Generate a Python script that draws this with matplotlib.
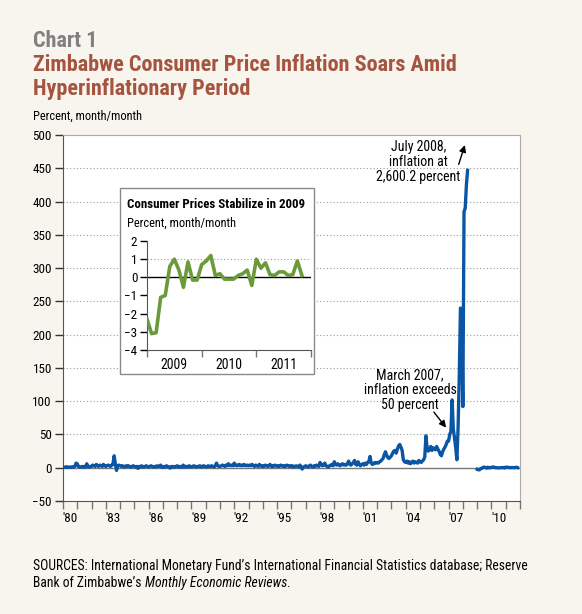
import numpy as np
import matplotlib
matplotlib.use("Agg")
import matplotlib.pyplot as plt
from matplotlib import font_manager
from matplotlib.patches import Rectangle

# monthly CPI inflation, percent month/month, Jan 1980 onward
cpi_1980s = [
    1, 0.5, 1, 1.5, 0.5, 1, 1, 0.5, 1.5, 1, 2, 7,
    6, 2, 1, 1, 2, 1, 2, 1, 6, 2, 1, 2,
    2, 4, 3, 2, 5, 3, 2, 4, 3, 2, 5, 3,
    2, 3, 4, 3, 2, 4, 5, 18, 6, -4, 3, 4,
    3, 2, 3, 2, 1, 3, 2, 3, 2, 1, 2, 3,
    2, 1, 2, -1, 2, 1, 3, 2, 1, 2, 3, 2,
    1, 2, 3, 2, 1, 2, 1, 3, 2, 2, 4, 1,
    0.5, 2, 1, 3, 2, 1, -0.5, 2, 1, 2, 1, 2,
    3, 1, 2, 1, 1, 4, 1, 2, 2, 1, 3, 2,
    1, 2, 3, 2, 1, 2, 2, 3, 1, 2, 3, 2,
]
cpi_1990s = [
    2, 1, 3, 2, 2, 3, 2, 1, 3, 7, 3, 2,
    2, 3, 4, 3, 2, 4, 3, 6, 4, 3, 4, 3,
    7, 4, 3, 4, 5, 3, 4, 3, 5, 4, 3, 4,
    3, 4, 3, 5, 3, 2, 4, 3, 2, 5, 3, 2,
    3, 2, 4, 3, 2, 3, 5, 2, 3, 2, 4, 3,
    2, 3, 2, 4, 3, 2, 3, 2, 4, 3, 2, 3,
    2, 3, 1, 2, 3, 2, 1, 4, 2, -2, 1, 2,
    3, 2, 1, 3, 4, 2, 1, 3, 2, 4, 3, 2,
    8, 5, 3, 4, 7, 3, 2, 1, 3, 4, 5, 3,
    9, 5, 4, 6, 4, 3, 5, 6, 4, 5, 4, 6,
]
cpi_2000s = [
    10, 5, 4, 6, 8, 11, 5, 4, 9, 5, 3, 5,
    6, 4, 7, 5, 8, 9, 17, 7, 5, 6, 8, 7,
    8, 7, 9, 10, 12, 14, 20, 24, 19, 15, 14, 16,
    18, 22, 25, 26, 22, 28, 33, 35, 31, 26, 12, 9,
    8, 10, 7, 9, 6, 8, 10, 7, 9, 8, 7, 11,
    9, 8, 10, 12, 16, 48, 28, 25, 28, 32, 26, 30,
    29, 27, 32, 28, 25, 20, 18, 24, 28, 31, 35, 40,
    40, 50, 55, 102, 58, 45, 30, 12, 60, 137, 240, 235,
    92, 385, 390, 425, 447,
]
# Jan 2009 - Nov 2011, after dollarization
cpi_2009_2011 = [
    -2.3, -3.1, -3.05, -1.1, -1.0, 0.6, 1.0, 0.4, -0.55, 0.85, -0.15, -0.15,
    0.7, 0.9, 1.2, 0.1, 0.2, -0.1, -0.1, -0.1, 0.1, 0.2, 0.4, -0.45,
    1.0, 0.5, 0.8, 0.15, 0.1, 0.3, 0.3, 0.1, 0.15, 0.9, 0.1,
]
x_labels = ["'80", "'83", "'86", "'89", "'92", "'95", "'98", "'01", "'04", "'07", "'10"]
inset_years = ["2009", "2010", "2011"]

names = {f.name for f in font_manager.fontManager.ttflist}
narrow = "Liberation Sans"
for cand in ["Roboto Condensed", "Archivo Narrow", "PT Sans Narrow", "Barlow Semi Condensed"]:
    if cand in names:
        narrow = cand
        break
plt.rcParams["font.family"] = [narrow, "DejaVu Sans"]

blue = "#0B55A5"
green = "#6B9A3B"
bg = "#F8F5EE"

fig = plt.figure(figsize=(5.82, 6.14), dpi=100, facecolor=bg)


def fit(t, width_px):
    # scale a text's font size so it spans the width seen in the reference
    w = t.get_window_extent(fig.canvas.get_renderer()).width
    t.set_fontsize(t.get_fontsize() * width_px / w)


# titles
t = fig.text(0.0567, 0.9235, "Chart 1", fontsize=15, fontweight="bold", color="#808080")
fit(t, 64)
t1 = fig.text(0.0567, 0.8844, "Zimbabwe Consumer Price Inflation Soars Amid", fontsize=15,
              fontweight="bold", color="#A4543F")
fit(t1, 424)
fig.text(0.0567, 0.8453, "Hyperinflationary Period", fontsize=t1.get_fontsize(),
         fontweight="bold", color="#A4543F")
t = fig.text(0.0567, 0.8046, "Percent, month/month", fontsize=9)
fit(t, 110)
small = t.get_fontsize()

# main chart
ax = fig.add_axes([0.1082, 0.184, 0.7852, 0.596])
ax.set_facecolor("white")
t_old = 1980 + np.arange(len(cpi_1980s) + len(cpi_1990s) + len(cpi_2000s)) / 12
v_old = cpi_1980s + cpi_1990s + cpi_2000s
t_new = 2009 + np.arange(len(cpi_2009_2011)) / 12
ax.plot(t_old, v_old, color=blue, lw=2.4, solid_joinstyle="round", zorder=3)
ax.plot(t_new, cpi_2009_2011, color=blue, lw=2.4, solid_joinstyle="round", zorder=3)

ax.set_xlim(1980, 2012)
ax.set_ylim(-50, 500)
ax.set_yticks(range(-50, 501, 50))
ax.tick_params(axis="y", length=6, width=1, color="#333333", labelsize=small + 0.5, pad=2)
ax.set_xticks(range(1980, 2013))
ax.set_xticklabels([])
ax.set_xticks([y + 0.5 for y in range(1980, 2011, 3)], minor=True)
ax.set_xticklabels(x_labels, minor=True)
ax.tick_params(axis="x", which="major", length=6, width=1, color="#777777")
ax.tick_params(axis="x", which="minor", length=0, labelsize=small + 0.5, pad=8)

for y in range(50, 500, 50):
    ax.axhline(y, color="#999999", lw=0.8, ls=(0, (1, 2)), zorder=1)
ax.axhline(0, color="#777777", lw=1, zorder=2)
for side in ["top", "right"]:
    ax.spines[side].set_color("#aaaaaa")
ax.spines["left"].set_color("#555555")
ax.spines["bottom"].set_color("#555555")

note = ax.text(2004.9, 460, "July 2008,\ninflation at\n2,600.2 percent", ha="center", va="center",
               fontsize=10, linespacing=1.1)
ax.annotate("", xy=(2008.2, 489), xytext=(2007.65, 452),
            arrowprops=dict(arrowstyle="-|>", color="black", lw=1, mutation_scale=10))
ax.text(2004.3, 117, "March 2007,\ninflation exceeds\n50 percent", ha="center", va="center",
        fontsize=10, linespacing=1.1)
ax.annotate("", xy=(2006.95, 57), xytext=(2005.85, 87),
            arrowprops=dict(arrowstyle="-|>", color="black", lw=1, mutation_scale=10))

# inset box and chart
box = Rectangle((0.206, 0.391), 0.333, 0.303, transform=fig.transFigure,
                facecolor="white", edgecolor="#8a8a8a", lw=1, zorder=5)
fig.add_artist(box)
t = fig.text(0.218, 0.661, "Consumer Prices Stabilize in 2009", fontsize=9.5, fontweight="bold", zorder=7)
fit(t, 178)
fig.text(0.218, 0.630, "Percent, month/month", fontsize=small, zorder=7)

ins = fig.add_axes([0.2526, 0.43, 0.2818, 0.1775])
ins.set_zorder(6)
ins.set_facecolor("white")
ins.plot(np.arange(len(cpi_2009_2011)), cpi_2009_2011, color=green, lw=2.6,
         solid_joinstyle="round", zorder=3)
ins.set_xlim(0, 36)
ins.set_ylim(-4, 2)
ins.set_yticks(range(-4, 3))
ins.set_yticklabels([str(v).replace("-", "\u2212") for v in range(-4, 3)])
ins.tick_params(axis="y", length=5, width=1, labelsize=small + 0.5, pad=2)
ins.set_xticks([0, 12, 24, 36])
ins.set_xticklabels([])
ins.set_xticks([6, 18, 30], minor=True)
ins.set_xticklabels(inset_years, minor=True)
ins.tick_params(axis="x", which="major", length=5, width=1, color="#777777")
ins.tick_params(axis="x", which="minor", length=0, labelsize=small + 1, pad=6)
ins.axhline(0, color="black", lw=1, zorder=2)
ins.axhline(1, color="#999999", lw=0.8, ls=(0, (1, 2)), zorder=1)
ins.spines["top"].set_visible(False)
ins.spines["right"].set_visible(False)
ins.spines["left"].set_color("#555555")
ins.spines["bottom"].set_color("#555555")

# sources
src = fig.text(0.0567, 0.0717, "SOURCES: International Monetary Fund\u2019s International Financial "
               "Statistics database; Reserve", fontsize=9)
fit(src, 498)
fs = src.get_fontsize()
part1 = fig.text(0.0567, 0.0440, "Bank of Zimbabwe\u2019s ", fontsize=fs)
x1 = part1.get_window_extent(fig.canvas.get_renderer()).x1 / fig.bbox.width
part2 = fig.text(x1, 0.0440, "Monthly Economic Reviews", fontsize=fs, style="italic")
x2 = part2.get_window_extent(fig.canvas.get_renderer()).x1 / fig.bbox.width
fig.text(x2, 0.0440, ".", fontsize=fs)

fig.savefig("out.png", dpi=100, facecolor=bg)
